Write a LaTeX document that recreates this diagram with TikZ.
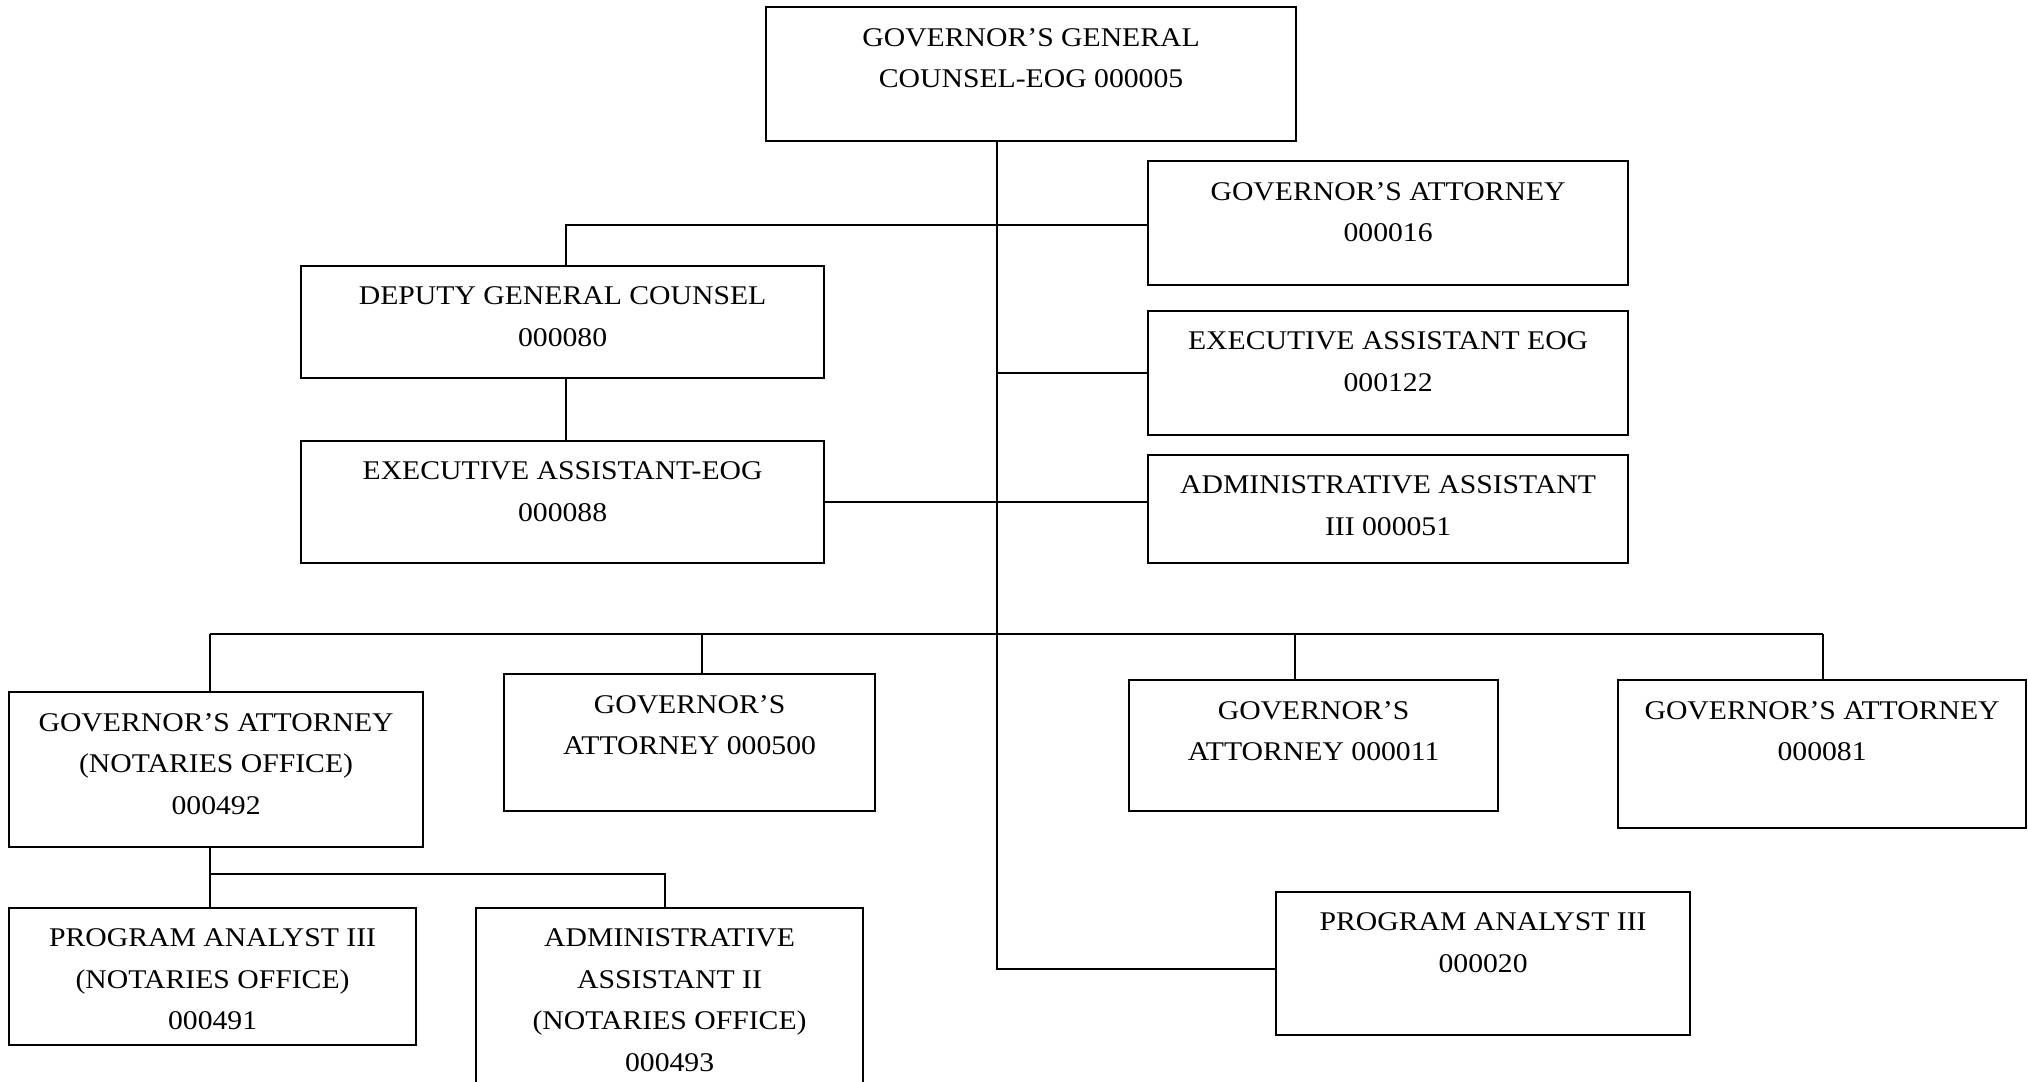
\documentclass[tikz,border=0pt]{standalone}
\usepackage{fontspec}
\setmainfont[FakeStretch=1.1]{Liberation Serif}
% post box: name, left, top, right, bottom, text (text hangs from the top edge)
\newcommand\orgbox[6]{%
  \pgfmathsetmacro\bw{#4-#2}\pgfmathsetmacro\bh{#5-#3}%
  \node[post] (#1) at (#2,#3)
    {\parbox[t][\bh pt][t]{\bw pt}{\centering\vspace*{21pt}#6\par}};}
\begin{document}
\begin{tikzpicture}[x=1pt,y=-1pt,
  conn/.style={line width=1.5pt},
  post/.style={draw, line width=2.2pt, inner sep=0pt, anchor=north west,
    font=\fontsize{27}{41.5}\selectfont}]
\useasboundingbox (0,0) rectangle (2028,1081);

% posts
\orgbox{gc}{765}{6}{1295}{140}{GOVERNOR’S GENERAL\\COUNSEL-EOG 000005}
\orgbox{ga16}{1147}{160}{1627}{284}{GOVERNOR’S ATTORNEY\\000016}
\orgbox{ee}{1147}{310}{1627}{434}{EXECUTIVE ASSISTANT EOG\\000122}
\orgbox{a3}{1147}{454}{1627}{562}{ADMINISTRATIVE ASSISTANT\\III 000051}
\orgbox{dep}{300}{265}{823}{377}{DEPUTY GENERAL COUNSEL\\000080}
\orgbox{ea}{300}{440}{823}{562}{EXECUTIVE ASSISTANT-EOG\\000088}
\orgbox{nt}{8}{691}{422}{846}{GOVERNOR’S ATTORNEY\\(NOTARIES OFFICE)\\000492}
\orgbox{ga500}{503}{673}{874}{810}{GOVERNOR’S\\ATTORNEY 000500}
\orgbox{ga11}{1128}{679}{1497}{810}{GOVERNOR’S\\ATTORNEY 000011}
\orgbox{ga81}{1617}{679}{2025}{827}{GOVERNOR’S ATTORNEY\\000081}
\orgbox{pa}{1275}{891}{1689}{1034}{PROGRAM ANALYST III\\000020}
\orgbox{pn}{8}{907}{415}{1044}{PROGRAM ANALYST III\\(NOTARIES OFFICE)\\000491}
\orgbox{a2}{475}{907}{862}{1100}{ADMINISTRATIVE\\ASSISTANT II\\(NOTARIES OFFICE)\\000493}

% connector guide lines
\coordinate (tr) at (997,0);      % main trunk
\coordinate (up) at (0,225);      % upper branch level
\coordinate (low) at (0,969);     % trunk foot
\coordinate (bus) at (0,634);     % lower bus
\coordinate (sub) at (0,874);     % notaries office bus
\coordinate (xd) at (566,0);      % deputy column
\coordinate (x1) at (210,0);
\coordinate (x2) at (702,0);
\coordinate (x3) at (1295,0);
\coordinate (x4) at (1823,0);
\coordinate (x5) at (665,0);

% main trunk
\draw[conn] (tr |- gc.south) -- (tr |- low) -- (low -| pa.west);
% upper branches
\draw[conn] (xd |- dep.north) -- (xd |- up) -- (up -| ga16.west);
\draw[conn] (tr |- ee.west) -- (ee.west);
\draw[conn] (xd |- dep.south) -- (xd |- ea.north);
\draw[conn] (ea.east) -- (ea.east -| a3.west);
% lower bus
\draw[conn] (bus -| x1) -- (bus -| x4);
\draw[conn] (bus -| x1) -- (x1 |- nt.north);
\draw[conn] (bus -| x2) -- (x2 |- ga500.north);
\draw[conn] (bus -| x3) -- (x3 |- ga11.north);
\draw[conn] (bus -| x4) -- (x4 |- ga81.north);
% notaries office
\draw[conn] (x1 |- nt.south) -- (x1 |- pn.north);
\draw[conn] (sub -| x1) -- (sub -| x5) -- (x5 |- a2.north);
\end{tikzpicture}
\end{document}
